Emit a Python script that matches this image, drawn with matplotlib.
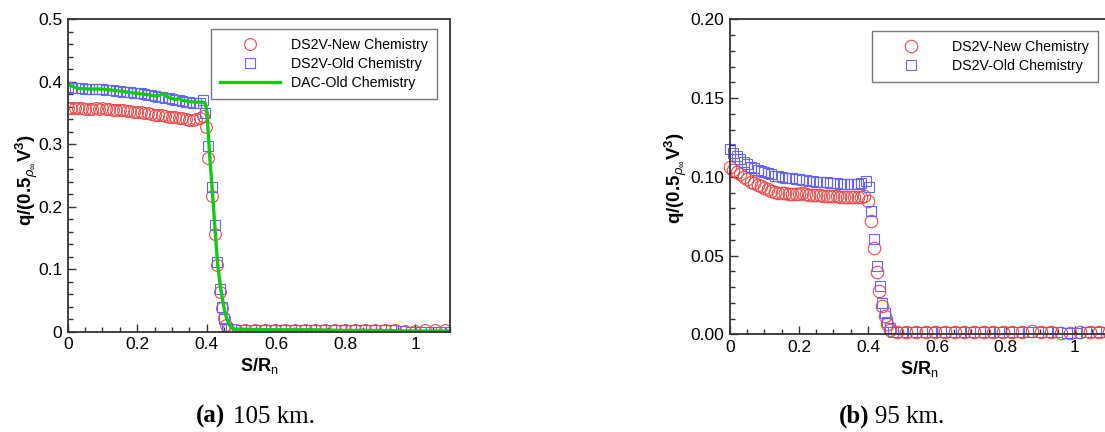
import matplotlib
matplotlib.use("Agg")
import matplotlib.pyplot as plt
from matplotlib.ticker import MultipleLocator, FuncFormatter

plt.rcParams['font.family'] = ['Liberation Sans', 'DejaVu Sans']
plt.rcParams['mathtext.fontset'] = 'custom'
plt.rcParams['mathtext.rm'] = 'Liberation Sans'
plt.rcParams['mathtext.bf'] = 'Liberation Sans:bold'
plt.rcParams['mathtext.it'] = 'Liberation Sans:italic'

# ---- 105 km ----
a_new_x = [0.00, 0.01, 0.02, 0.03, 0.04, 0.05, 0.06, 0.07, 0.08, 0.09,
           0.10, 0.11, 0.12, 0.13, 0.14, 0.15, 0.16, 0.17, 0.18, 0.19,
           0.20, 0.21, 0.22, 0.23, 0.24, 0.25, 0.26, 0.27, 0.28, 0.29,
           0.30, 0.31, 0.32, 0.33, 0.34, 0.35, 0.36, 0.37, 0.38, 0.39,
           0.398, 0.405, 0.415, 0.424, 0.431, 0.438, 0.445, 0.450, 0.455, 0.462,
           0.481, 0.510, 0.539, 0.567, 0.596, 0.625, 0.654, 0.683, 0.711, 0.740,
           0.769, 0.798, 0.827, 0.855, 0.884, 0.913, 0.942, 0.971, 0.999, 1.028,
           1.057, 1.086]
a_new_y = [0.358, 0.358, 0.357, 0.357, 0.357, 0.356, 0.356, 0.356, 0.357, 0.356,
           0.357, 0.356, 0.356, 0.355, 0.355, 0.355, 0.354, 0.353, 0.353, 0.352,
           0.352, 0.351, 0.350, 0.349, 0.348, 0.347, 0.346, 0.346, 0.345, 0.344,
           0.343, 0.343, 0.342, 0.341, 0.340, 0.339, 0.339, 0.340, 0.342, 0.345,
           0.327, 0.277, 0.217, 0.157, 0.106, 0.064, 0.038, 0.022, 0.011, 0.004,
           0.003, 0.003, 0.003, 0.003, 0.003, 0.003, 0.003, 0.003, 0.003, 0.003,
           0.003, 0.003, 0.003, 0.003, 0.003, 0.002, 0.002, 0.001, 0.001, 0.002,
           0.002, 0.002]

a_old_x = [0.00, 0.01, 0.02, 0.03, 0.04, 0.05, 0.06, 0.07, 0.08, 0.09,
           0.10, 0.11, 0.12, 0.13, 0.14, 0.15, 0.16, 0.17, 0.18, 0.19,
           0.20, 0.21, 0.22, 0.23, 0.24, 0.25, 0.26, 0.27, 0.28, 0.29,
           0.30, 0.31, 0.32, 0.33, 0.34, 0.35, 0.36, 0.37, 0.38, 0.39,
           0.396, 0.405, 0.415, 0.425, 0.431, 0.438, 0.444, 0.450, 0.458,
           0.470, 0.499, 0.528, 0.556, 0.585, 0.614, 0.643, 0.672, 0.700, 0.729,
           0.758, 0.787, 0.816, 0.844, 0.873, 0.902, 0.931, 0.960, 0.988, 1.017,
           1.046, 1.075, 1.100]
a_old_y = [0.391, 0.390, 0.389, 0.389, 0.389, 0.388, 0.388, 0.388, 0.388, 0.388,
           0.388, 0.387, 0.387, 0.386, 0.385, 0.385, 0.384, 0.383, 0.383, 0.382,
           0.381, 0.381, 0.380, 0.379, 0.378, 0.377, 0.376, 0.375, 0.374, 0.373,
           0.372, 0.371, 0.370, 0.369, 0.368, 0.367, 0.366, 0.365, 0.366, 0.370,
           0.350, 0.297, 0.232, 0.170, 0.112, 0.068, 0.040, 0.020, 0.006,
           0.004, 0.003, 0.003, 0.003, 0.003, 0.003, 0.003, 0.003, 0.003, 0.003,
           0.003, 0.003, 0.003, 0.003, 0.003, 0.003, 0.002, 0.001, 0.000, 0.000,
           0.000, 0.000, 0.000]

dac_x = [0.00, 0.01, 0.03, 0.06, 0.10, 0.13, 0.16, 0.20, 0.23, 0.25,
         0.265, 0.275, 0.285, 0.30, 0.31, 0.32, 0.33, 0.35, 0.37, 0.39,
         0.395, 0.400, 0.404, 0.410, 0.418, 0.425, 0.432, 0.440, 0.446, 0.452,
         0.458, 0.465, 0.472, 0.48, 0.50, 0.60, 0.70, 0.80, 0.90, 1.00, 1.10]
dac_y = [0.396, 0.393, 0.389, 0.388, 0.388, 0.386, 0.384, 0.381, 0.379, 0.377,
         0.378, 0.381, 0.376, 0.373, 0.371, 0.373, 0.370, 0.368, 0.367, 0.367,
         0.366, 0.355, 0.320, 0.270, 0.211, 0.155, 0.104, 0.070, 0.050, 0.032,
         0.020, 0.011, 0.006, 0.004, 0.004, 0.003, 0.003, 0.002, 0.002, 0.001, 0.001]

# ---- 95 km ----
b_new_x = [0.00, 0.01, 0.02, 0.03, 0.04, 0.05, 0.06, 0.07, 0.08, 0.09,
           0.10, 0.11, 0.12, 0.13, 0.14, 0.15, 0.16, 0.17, 0.18, 0.19,
           0.20, 0.21, 0.22, 0.23, 0.24, 0.25, 0.26, 0.27, 0.28, 0.29,
           0.30, 0.31, 0.32, 0.33, 0.34, 0.35, 0.36, 0.37, 0.38, 0.39,
           0.400, 0.409, 0.417, 0.425, 0.433, 0.441, 0.448, 0.456, 0.464,
           0.483, 0.511, 0.539, 0.567, 0.595, 0.623, 0.651, 0.679, 0.707, 0.735,
           0.763, 0.791, 0.819, 0.847, 0.875, 0.903, 0.931, 0.959, 0.987, 1.015,
           1.043, 1.071, 1.099]
b_new_y = [0.1060, 0.1045, 0.1030, 0.1015, 0.1000, 0.0985, 0.0970, 0.0960, 0.0950, 0.0940,
           0.0930, 0.0920, 0.0910, 0.0905, 0.0900, 0.0898, 0.0895, 0.0893, 0.0892, 0.0890,
           0.0893, 0.0895, 0.0890, 0.0887, 0.0885, 0.0883, 0.0882, 0.0880, 0.0878, 0.0877,
           0.0876, 0.0875, 0.0874, 0.0873, 0.0872, 0.0872, 0.0873, 0.0874, 0.0873, 0.0875,
           0.0844, 0.0717, 0.0550, 0.0398, 0.0277, 0.0180, 0.0114, 0.0063, 0.0028,
           0.0017, 0.0017, 0.0017, 0.0017, 0.0017, 0.0017, 0.0017, 0.0017, 0.0017, 0.0017,
           0.0017, 0.0017, 0.0017, 0.0017, 0.0018, 0.0017, 0.0015, 0.0005, 0.0005, 0.0012,
           0.0015, 0.0015, 0.0015]

b_old_x = [0.00, 0.01, 0.02, 0.03, 0.04, 0.05, 0.06, 0.07, 0.08, 0.09,
           0.10, 0.11, 0.12, 0.13, 0.14, 0.15, 0.16, 0.17, 0.18, 0.19,
           0.20, 0.21, 0.22, 0.23, 0.24, 0.25, 0.26, 0.27, 0.28, 0.29,
           0.30, 0.31, 0.32, 0.33, 0.34, 0.35, 0.36, 0.37, 0.38, 0.393,
           0.403, 0.409, 0.418, 0.426, 0.434, 0.441, 0.448, 0.455, 0.463,
           0.473, 0.501, 0.529, 0.557, 0.585, 0.613, 0.641, 0.669, 0.697, 0.725,
           0.753, 0.781, 0.809, 0.837, 0.865, 0.893, 0.921, 0.949, 0.977, 1.005,
           1.033, 1.061, 1.089]
b_old_y = [0.1176, 0.1150, 0.1130, 0.1115, 0.1095, 0.1080, 0.1065, 0.1055, 0.1045, 0.1038,
           0.1030, 0.1022, 0.1015, 0.1008, 0.1002, 0.0998, 0.0995, 0.0993, 0.0990, 0.0987,
           0.0983, 0.0980, 0.0978, 0.0975, 0.0972, 0.0970, 0.0968, 0.0966, 0.0964, 0.0962,
           0.0960, 0.0958, 0.0957, 0.0956, 0.0955, 0.0955, 0.0955, 0.0956, 0.0960, 0.0976,
           0.0935, 0.0780, 0.0607, 0.0433, 0.0304, 0.0199, 0.0132, 0.0079, 0.0037,
           0.0017, 0.0017, 0.0017, 0.0017, 0.0017, 0.0017, 0.0017, 0.0017, 0.0017, 0.0017,
           0.0017, 0.0017, 0.0017, 0.0017, 0.0017, 0.0017, 0.0017, 0.0015, 0.0008, 0.0010,
           0.0012, 0.0012, 0.0012]

red = '#f04848'
blue = '#6464ff'
green = '#10cc10'

fig = plt.figure(figsize=(11.05, 4.32), dpi=100)
ax1 = fig.add_axes([0.0613, 0.2322, 0.3459, 0.7238])
ax2 = fig.add_axes([0.6606, 0.2262, 0.3434, 0.7291])

ylabel = r'$\mathbf{q/(0.5}_{\rho_{\infty}}\mathbf{V^3)}$'
xlabel = r'$\mathbf{S/R}_{\mathrm{n}}$'


def fmt_x(v, pos):
    return '%g' % round(v, 3)


def style(ax):
    ax.set_xlim(0, 1.1)
    ax.xaxis.set_major_locator(MultipleLocator(0.2))
    ax.xaxis.set_minor_locator(MultipleLocator(0.05))
    ax.xaxis.set_major_formatter(FuncFormatter(fmt_x))
    ax.tick_params(which='both', direction='in', top=False, right=False,
                   labelsize=12.5, width=1.0, color='#333333', pad=4)
    ax.tick_params(which='major', length=6)
    ax.tick_params(which='minor', length=3.5)
    for s in ax.spines.values():
        s.set_linewidth(1.3)
        s.set_color('#333333')
    ax.set_ylabel(ylabel, fontsize=13.5)
    ax.set_xlabel(xlabel, fontsize=13, labelpad=3)


# (a) 105 km
ax1.plot(a_new_x, a_new_y, 'o', ms=8.5, mfc='none', mec=red, mew=0.8,
         label='DS2V-New Chemistry')
ax1.plot(a_old_x, a_old_y, 's', ms=7, mfc='none', mec=blue, mew=0.8,
         label='DS2V-Old Chemistry')
ax1.plot(dac_x, dac_y, '-', color=green, lw=2.4, label='DAC-Old Chemistry')
style(ax1)
ax1.set_ylim(0, 0.5)
ax1.yaxis.set_major_locator(MultipleLocator(0.1))
ax1.yaxis.set_minor_locator(MultipleLocator(0.02))
ax1.yaxis.set_major_formatter(FuncFormatter(fmt_x))
ax1.yaxis.set_label_coords(-0.072, 0.486)

# (b) 95 km
ax2.plot(b_new_x, b_new_y, 'o', ms=9, mfc='none', mec=red, mew=0.8,
         label='DS2V-New Chemistry', clip_on=False)
ax2.plot(b_old_x, b_old_y, 's', ms=7.3, mfc='none', mec=blue, mew=0.8,
         label='DS2V-Old Chemistry', clip_on=False)
style(ax2)
ax2.set_ylim(0, 0.2)
ax2.yaxis.set_major_locator(MultipleLocator(0.05))
ax2.yaxis.set_minor_locator(MultipleLocator(0.01))
ax2.yaxis.set_major_formatter(FuncFormatter(lambda v, p: '%.2f' % v))
ax2.yaxis.set_label_coords(-0.108, 0.495)

for ax, anchor in ((ax1, (0.3955, 0.9329)), (ax2, (0.9937, 0.9282))):
    leg = ax.legend(loc='upper right', bbox_to_anchor=anchor,
                    bbox_transform=fig.transFigure, borderaxespad=0,
                    fontsize=10.2, handlelength=4.2, handletextpad=0.8,
                    labelspacing=0.35, borderpad=0.65, fancybox=False,
                    framealpha=1, edgecolor='#777777')
    leg.get_frame().set_linewidth(1.0)

# captions
cap = dict(va='baseline', fontsize=18, family='Liberation Serif')
fig.text(225 / 1105, 1 - 423 / 432, '(a)', ha='right', fontweight='bold', **cap)
fig.text(233 / 1105, 1 - 423 / 432, '105 km.', ha='left', **cap)
fig.text(869 / 1105, 1 - 423 / 432, '(b)', ha='right', fontweight='bold', **cap)
fig.text(875 / 1105, 1 - 423 / 432, '95 km.', ha='left', **cap)

fig.savefig('out.png', dpi=100)
